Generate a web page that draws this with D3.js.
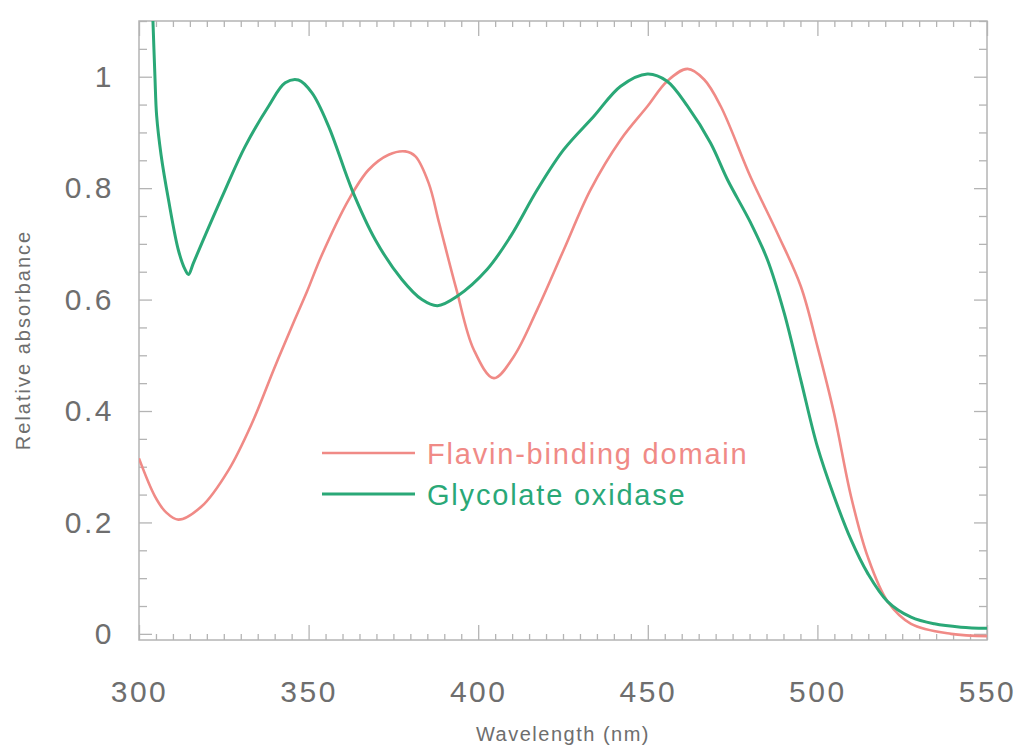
<!DOCTYPE html>
<meta charset="utf-8">
<style>
html, body {
  margin: 0;
  background: #fff;
}
svg {
  font-family: "Liberation Sans", Arial, sans-serif;
}
.frame {
  fill: none;
  stroke: #b4b4b4;
  stroke-width: 1.5;
}
.axis path {
  stroke: none;
}
.axis line {
  stroke: #b4b4b4;
  stroke-width: 1.3;
}
.axis text {
  fill: #6e6e6e;
  font-size: 30px;
  letter-spacing: 2.5px;
}
.title {
  fill: #6e6e6e;
  font-size: 20px;
}
</style>
<svg width="1018" height="746"></svg>
<script src="https://cdn.jsdelivr.net/npm/d3@7"></script>
<script>
// spectra: wavelength (nm) / relative absorbance
const flavinNm = [300, 304.7, 308, 311.6, 318.5, 326.4, 333.3, 340.1, 346, 349.5, 353.9, 361.8, 367.7, 373.6, 378.5, 381.5, 385.4, 388.5, 393.5, 398.7, 404.6, 410.5, 417.4, 425.2, 433.1, 442, 449.9, 455.7, 461.7, 466.6, 471.5, 480.3, 488.2, 495.1, 500, 504.9, 509.9, 514.8, 520.7, 527.6, 539.4, 550];
const flavinAbs = [0.315, 0.247, 0.218, 0.205, 0.229, 0.294, 0.378, 0.48, 0.565, 0.614, 0.68, 0.779, 0.833, 0.86, 0.866, 0.857, 0.809, 0.737, 0.62, 0.51, 0.459, 0.498, 0.582, 0.689, 0.797, 0.887, 0.947, 0.992, 1.014, 0.995, 0.947, 0.82, 0.719, 0.624, 0.516, 0.396, 0.247, 0.139, 0.058, 0.018, 0.0, -0.004];

const glycoNm = [304, 304.7, 305.2, 306.5, 308.7, 311.6, 313.5, 314.6, 316, 318.5, 325.4, 331.3, 338.2, 343.1, 347, 351, 355.9, 362.8, 369.7, 377.5, 383.4, 388, 393.8, 402.6, 409.5, 417.4, 425.2, 434.1, 442, 449.9, 455.7, 461.7, 468.5, 473.5, 480.3, 485.3, 490.2, 495.1, 500, 504.9, 509.9, 514.8, 520.7, 527.6, 534.5, 542.3, 550];
const glycoAbs = [1.12, 1.0, 0.93, 0.86, 0.779, 0.689, 0.655, 0.645, 0.665, 0.701, 0.797, 0.875, 0.947, 0.989, 0.994, 0.971, 0.911, 0.797, 0.707, 0.636, 0.6, 0.589, 0.606, 0.654, 0.713, 0.797, 0.869, 0.929, 0.983, 1.005, 0.992, 0.947, 0.881, 0.815, 0.738, 0.671, 0.576, 0.456, 0.336, 0.247, 0.169, 0.109, 0.058, 0.03, 0.018, 0.012, 0.01];

const seriesNames = ['Flavin-binding domain', 'Glycolate oxidase'];
const seriesColors = ['#f08a86', '#2aa877'];

const xMajor = [300, 350, 400, 450, 500, 550];
const yMajor = [0, 0.2, 0.4, 0.6, 0.8, 1];
const yLabels = ['0', '0.2', '0.4', '0.6', '0.8', '1'];

const svg = d3.select('svg');
const m = {left: 139, right: 987, top: 21, bottom: 640};

const x = d3.scaleLinear().domain([300, 550]).range([m.left, m.right]);
const y = d3.scaleLinear().domain([-0.011, 1.1]).range([m.bottom, m.top]);

const xMinor = d3.range(300, 551, 5).filter(v => v % 50 !== 0);
const yMinor = d3.range(0, 23).map(i => +(i * 0.05).toFixed(2)).filter(v => !yMajor.includes(v));

svg.append('defs').append('clipPath')
  .attr('id', 'plot')
  .append('rect')
  .attr('x', m.left).attr('y', m.top)
  .attr('width', m.right - m.left).attr('height', m.bottom - m.top);

// ticks, all pointing inward
svg.append('g').attr('class', 'axis')
  .attr('transform', `translate(0,${m.bottom})`)
  .call(d3.axisBottom(x).tickValues(xMinor).tickSize(-6).tickFormat(''));
svg.append('g').attr('class', 'axis')
  .attr('transform', `translate(0,${m.bottom})`)
  .call(d3.axisBottom(x).tickValues(xMajor).tickSize(-15).tickPadding(41).tickFormat(d3.format('d')));
svg.append('g').attr('class', 'axis')
  .attr('transform', `translate(0,${m.top})`)
  .call(d3.axisTop(x).tickValues(xMinor).tickSize(-6).tickFormat(''));
svg.append('g').attr('class', 'axis')
  .attr('transform', `translate(0,${m.top})`)
  .call(d3.axisTop(x).tickValues(xMajor).tickSize(-15).tickFormat(''));

svg.append('g').attr('class', 'axis')
  .attr('transform', `translate(${m.left},0)`)
  .call(d3.axisLeft(y).tickValues(yMinor).tickSize(-8).tickFormat(''));
svg.append('g').attr('class', 'axis')
  .attr('transform', `translate(${m.left},0)`)
  .call(d3.axisLeft(y).tickValues(yMajor).tickSize(-13).tickPadding(25)
    .tickFormat((d, i) => yLabels[i]));
svg.append('g').attr('class', 'axis')
  .attr('transform', `translate(${m.right},0)`)
  .call(d3.axisRight(y).tickValues(yMinor).tickSize(-8).tickFormat(''));
svg.append('g').attr('class', 'axis')
  .attr('transform', `translate(${m.right},0)`)
  .call(d3.axisRight(y).tickValues(yMajor).tickSize(-13).tickFormat(''));

svg.append('rect')
  .attr('class', 'frame')
  .attr('x', m.left).attr('y', m.top)
  .attr('width', m.right - m.left).attr('height', m.bottom - m.top);

const line = d3.line()
  .x(d => x(d[0]))
  .y(d => y(d[1]))
  .curve(d3.curveCatmullRom.alpha(0.5));

const series = [
  d3.zip(flavinNm, flavinAbs),
  d3.zip(glycoNm, glycoAbs)
];

svg.append('g')
  .attr('clip-path', 'url(#plot)')
  .selectAll('path')
  .data(series)
  .enter()
  .append('path')
  .attr('fill', 'none')
  .attr('stroke', (d, i) => seriesColors[i])
  .attr('stroke-width', (d, i) => i === 1 ? 3 : 2.6)
  .attr('stroke-linejoin', 'round')
  .attr('d', line);

// legend
const legend = svg.append('g').attr('transform', 'translate(322,453)');
seriesNames.forEach((name, i) => {
  const g = legend.append('g').attr('transform', `translate(0,${i * 41})`);
  g.append('line')
    .attr('x1', 0).attr('x2', 93)
    .attr('stroke', seriesColors[i])
    .attr('stroke-width', i === 1 ? 3 : 2.6);
  g.append('text')
    .attr('x', 105).attr('y', 11)
    .attr('fill', seriesColors[i])
    .style('font-size', '29px')
    .style('letter-spacing', '1.8px')
    .text(name);
});

svg.append('text')
  .attr('class', 'title')
  .attr('x', 563).attr('y', 741)
  .attr('text-anchor', 'middle')
  .style('letter-spacing', '1.5px')
  .text('Wavelength (nm)');

svg.append('text')
  .attr('class', 'title')
  .attr('transform', 'translate(30,340) rotate(-90)')
  .attr('text-anchor', 'middle')
  .style('letter-spacing', '2px')
  .text('Relative absorbance');
</script>
